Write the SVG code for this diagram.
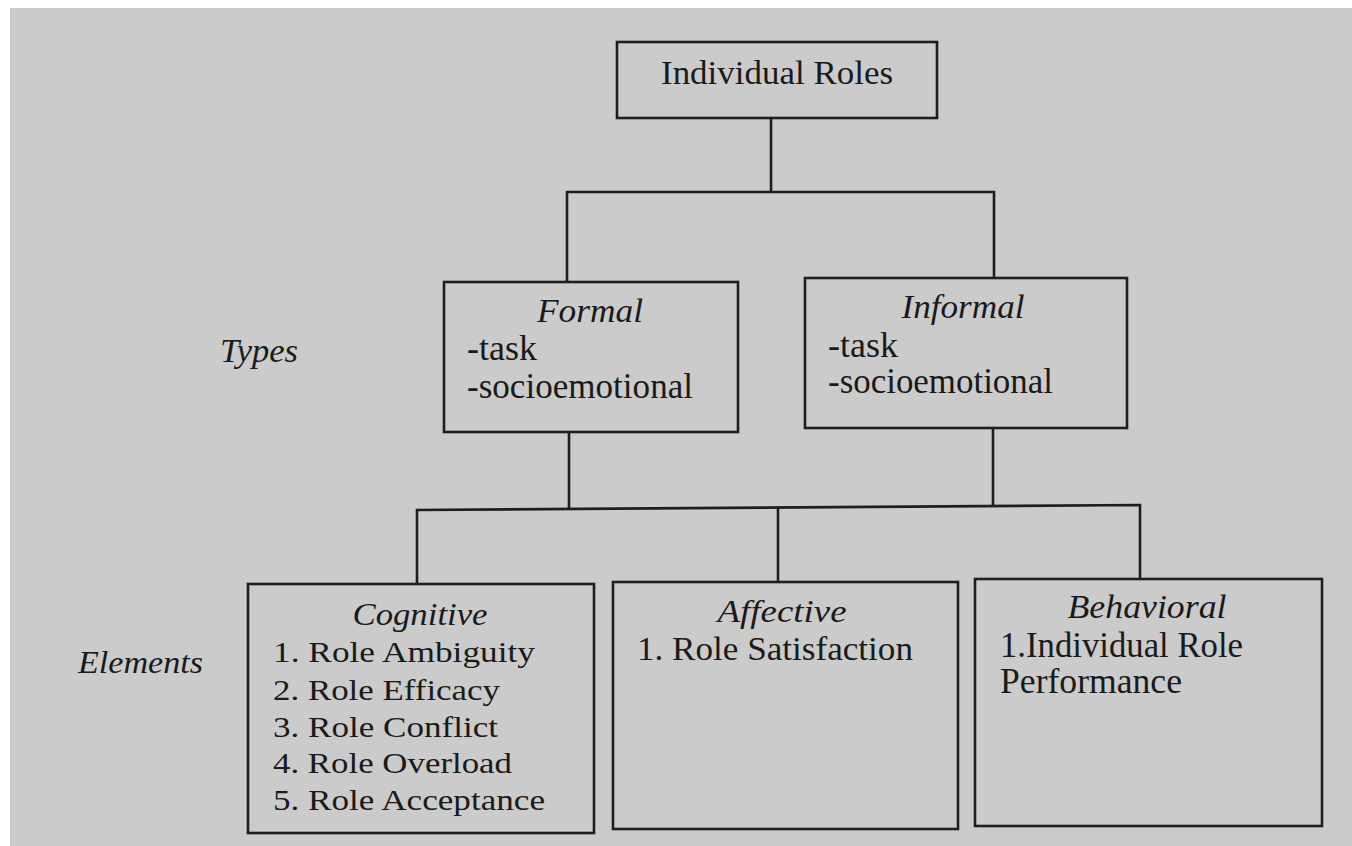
<svg xmlns="http://www.w3.org/2000/svg" width="1352" height="846" viewBox="0 0 1352 846">
<style>
.box{fill:none;stroke:#1e1e1e;stroke-width:2.6}
.conn{fill:none;stroke:#1e1e1e;stroke-width:2.6}
text{font-family:"Liberation Serif","Times New Roman",serif;fill:#1a1a1a}
.it{font-style:italic}
.t34{font-size:34px}
.t35{font-size:35px}
.t29{font-size:29px}
</style>
<rect x="0" y="0" width="1352" height="846" fill="#ffffff"/>
<rect x="10" y="8" width="1342" height="838" fill="#cbcbcb"/>
<g id="connectors">
<path class="conn" d="M771 118 V192"/>
<path class="conn" d="M567 282 V192 H994 V278"/>
<path class="conn" d="M569 432 V509"/>
<path class="conn" d="M993 428 V506"/>
<path class="conn" d="M417 584 V510 L1140 505 V579"/>
<path class="conn" d="M778 508 V582"/>
</g>
<g id="node-individual-roles">
<rect class="box" x="617" y="42" width="320" height="76"/>
<text class="t34" x="777" y="84" text-anchor="middle" textLength="232" lengthAdjust="spacingAndGlyphs">Individual Roles</text>
</g>
<g id="label-types">
<text class="it" font-size="33" x="220" y="362" textLength="78" lengthAdjust="spacingAndGlyphs">Types</text>
</g>
<g id="label-elements">
<text class="it" font-size="32" x="78" y="673" textLength="125" lengthAdjust="spacingAndGlyphs">Elements</text>
</g>
<g id="node-formal">
<rect class="box" x="444" y="282" width="294" height="150"/>
<text class="it t34" x="590" y="322" text-anchor="middle" textLength="106" lengthAdjust="spacingAndGlyphs">Formal</text>
<text class="t35" x="467" y="360" textLength="70" lengthAdjust="spacingAndGlyphs">-task</text>
<text class="t35" x="467" y="398" textLength="226" lengthAdjust="spacingAndGlyphs">-socioemotional</text>
</g>
<g id="node-informal">
<rect class="box" x="805" y="278" width="322" height="150"/>
<text class="it t34" x="963" y="318" text-anchor="middle" textLength="123" lengthAdjust="spacingAndGlyphs">Informal</text>
<text class="t35" x="828" y="357" textLength="70" lengthAdjust="spacingAndGlyphs">-task</text>
<text class="t35" x="828" y="393" textLength="225" lengthAdjust="spacingAndGlyphs">-socioemotional</text>
</g>
<g id="node-cognitive">
<rect class="box" x="248" y="584" width="346" height="249"/>
<text class="it" font-size="31" x="420" y="625" text-anchor="middle" textLength="135" lengthAdjust="spacingAndGlyphs">Cognitive</text>
<text class="t29" x="273" y="662" textLength="262" lengthAdjust="spacingAndGlyphs">1. Role Ambiguity</text>
<text class="t29" x="273" y="700" textLength="227" lengthAdjust="spacingAndGlyphs">2. Role Efficacy</text>
<text class="t29" x="273" y="737" textLength="225" lengthAdjust="spacingAndGlyphs">3. Role Conflict</text>
<text class="t29" x="273" y="773" textLength="239" lengthAdjust="spacingAndGlyphs">4. Role Overload</text>
<text class="t29" x="273" y="810" textLength="272" lengthAdjust="spacingAndGlyphs">5. Role Acceptance</text>
</g>
<g id="node-affective">
<rect class="box" x="613" y="582" width="345" height="247"/>
<text class="it" font-size="32" x="782" y="622" text-anchor="middle" textLength="129" lengthAdjust="spacingAndGlyphs">Affective</text>
<text class="t34" x="637" y="660" textLength="276" lengthAdjust="spacingAndGlyphs">1. Role Satisfaction</text>
</g>
<g id="node-behavioral">
<rect class="box" x="975" y="579" width="347" height="247"/>
<text class="it" font-size="33" x="1147" y="618" text-anchor="middle" textLength="159" lengthAdjust="spacingAndGlyphs">Behavioral</text>
<text class="t35" x="1000" y="657" textLength="243" lengthAdjust="spacingAndGlyphs">1.Individual Role</text>
<text class="t35" x="1000" y="693" textLength="182" lengthAdjust="spacingAndGlyphs">Performance</text>
</g>
</svg>
